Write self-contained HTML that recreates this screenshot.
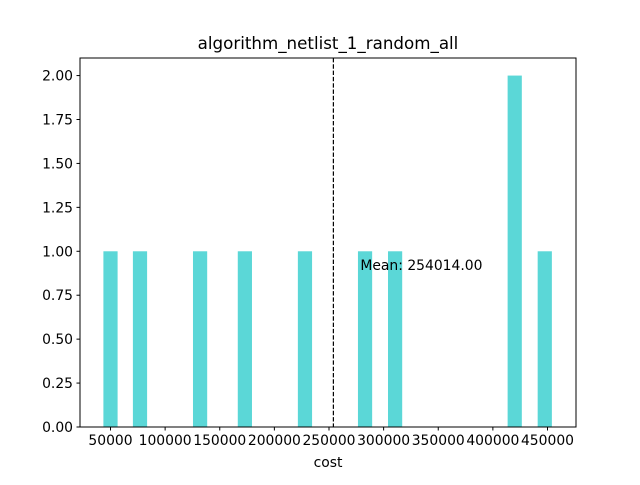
<!DOCTYPE html>
<html><head><meta charset="utf-8"><style>
body{margin:0;background:#fff;}
svg text{font-family:"DejaVu Sans","Liberation Sans",sans-serif;fill:#000;}
</style></head><body>
<svg id="chart" width="640" height="480" viewBox="0 0 640 480" xmlns="http://www.w3.org/2000/svg">
<rect width="640" height="480" fill="#fff"/>
<g id="bars"></g>
<g id="axes"></g>
<text x="328" y="49" font-size="16.7" text-anchor="middle">algorithm_netlist_1_random_all</text>
<text x="328" y="467" font-size="13.9" text-anchor="middle">cost</text>
</svg>
<script>
const binCenters = [50000, 77000, 132000, 173000, 228000, 283000, 310500, 420000, 447500];
const counts = [1, 1, 1, 1, 1, 1, 1, 2, 1];
const xTicks = [50000, 100000, 150000, 200000, 250000, 300000, 350000, 400000, 450000];
const yTicks = [0, 0.25, 0.5, 0.75, 1.0, 1.25, 1.5, 1.75, 2.0];
const meanValue = 254014;
const barWidthValue = 13000;

const L=80,R=576,T=58,B=427;
const xMin=22080,xMax=476090,yMax=2.1;
const xs=v=>L+(v-xMin)/(xMax-xMin)*(R-L);
const ys=v=>B-(v/yMax)*(B-T);
const NS="http://www.w3.org/2000/svg";
function mk(tag,attrs,parent){const e=document.createElementNS(NS,tag);for(const k in attrs)e.setAttribute(k,attrs[k]);parent.appendChild(e);return e;}
const bars=document.getElementById('bars'),axes=document.getElementById('axes');
binCenters.forEach((c,i)=>{
  const x0=xs(c-barWidthValue/2),x1=xs(c+barWidthValue/2);
  const r=mk('rect',{x:x0,y:ys(counts[i]),width:x1-x0,height:B-ys(counts[i]),fill:'#5bd7d7'},bars);
  
  
});
const ml=mk('line',{x1:xs(meanValue),x2:xs(meanValue),y1:T,y2:B,stroke:'#000','stroke-width':1.2,'stroke-dasharray':'4.4,1.9'},axes);


const mt=mk('text',{x:xs(meanValue)+27,y:ys(0.9)+1,'font-size':13.9},axes);
mt.textContent='Mean: '+meanValue.toFixed(2);


const fr=mk('rect',{x:L,y:T,width:R-L,height:B-T,fill:'none',stroke:'#000','stroke-width':1},axes);


xTicks.forEach(v=>{
  const x=xs(v);
  mk('line',{x1:x,x2:x,y1:B,y2:B+3.5,stroke:'#000'},axes);
  const t=mk('text',{x:x,y:B+18,'font-size':13.9,'text-anchor':'middle'},axes);
  t.textContent=v;
  
  
});
yTicks.forEach(v=>{
  const y=ys(v);
  mk('line',{x1:L-3.5,x2:L,y1:y,y2:y,stroke:'#000'},axes);
  const t=mk('text',{x:L-7,y:y+5,'font-size':13.9,'text-anchor':'end'},axes);
  t.textContent=v.toFixed(2);
  
  
});
</script>
</body></html>
